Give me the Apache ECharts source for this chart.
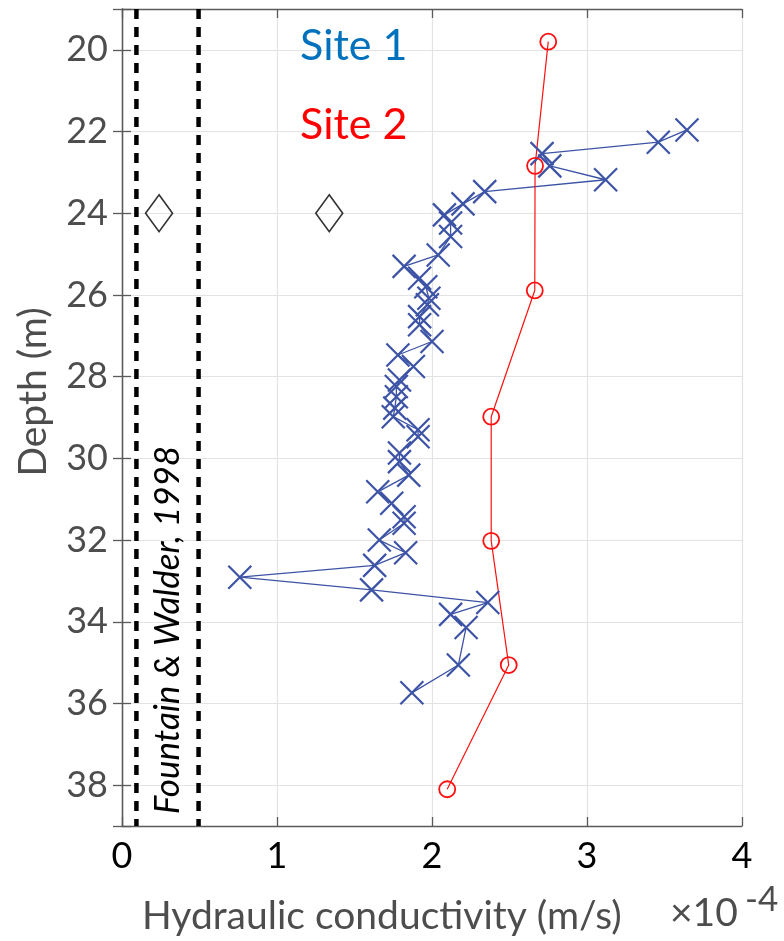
<!DOCTYPE html>
<html>
<head>
<meta charset="utf-8">
<script src="https://cdn.jsdelivr.net/npm/echarts@6/dist/echarts.min.js"></script>
<style>
html,body{margin:0;padding:0;background:#fff;}
#chart{width:784px;height:941px;}
</style>
</head>
<body>
<div id="chart"></div>
<script>
// ---- Data (hydraulic conductivity in 1e-4 m/s, depth in m) ----
const site1K = [3.645, 3.46, 2.71, 2.76, 3.12, 2.34, 2.20, 2.08, 2.12, 2.12, 2.04, 1.82, 1.92, 1.96, 1.98, 1.97, 1.92, 1.92, 2.00, 1.78, 1.88, 1.79, 1.77, 1.77, 1.76, 1.75, 1.91, 1.91, 1.79, 1.79, 1.85, 1.65, 1.74, 1.82, 1.82, 1.66, 1.83, 1.63, 0.76, 1.61, 2.36, 2.12, 2.22, 2.17, 1.87];
const site1Depth = [21.96, 22.26, 22.54, 22.84, 23.18, 23.47, 23.77, 24.04, 24.24, 24.57, 25.02, 25.30, 25.59, 25.80, 26.08, 26.24, 26.53, 26.73, 27.14, 27.47, 27.75, 28.08, 28.24, 28.49, 28.77, 28.98, 29.30, 29.47, 29.87, 30.08, 30.41, 30.82, 31.10, 31.43, 31.59, 32.00, 32.31, 32.62, 32.91, 33.22, 33.53, 33.82, 34.14, 35.06, 35.74];
const site2K = [2.75, 2.665, 2.663, 2.382, 2.382, 2.495, 2.098];
const site2Depth = [19.80, 22.84, 25.89, 28.98, 32.02, 35.06, 38.10];
const refLineK = [0.093, 0.494];       // Fountain & Walder, 1998 bounds
const diamondK = [0.239, 1.337];
const diamondDepth = [24, 24];
const xTicks = [0, 1, 2, 3, 4];
const depthRange = [19, 39];

const FONT = 'Lato';
const blue = '#3D53A6';
const red = '#FF1010';

const zip = (a, b) => a.map((v, i) => [v, b[i]]);

const chart = echarts.init(document.getElementById('chart'), null, {renderer: 'canvas'});

const frameColor = '#5a5a5a';
const gridColor = '#e3e3e3';

const txt = (x, y, text, fill, font, align, rot) => ({
  type: 'text', x: x, y: y, rotation: rot || 0, silent: true, z: 200, zlevel: 0,
  style: {text: text, fill: fill, font: font, align: align, verticalAlign: 'middle',
    textAlign: align, textVerticalAlign: 'middle'}
});

const option = {
  animation: false,
  backgroundColor: '#fff',
  grid: {left: 122, top: 9, right: 42, bottom: 115, containLabel: false},
  xAxis: [
    {
      type: 'value', position: 'bottom',
      min: xTicks[0], max: xTicks[xTicks.length - 1], interval: 1,
      axisLine: {show: true, lineStyle: {color: frameColor, width: 1.3}},
      axisTick: {show: true, inside: true, length: 9, lineStyle: {color: frameColor, width: 1.3}},
      axisLabel: {color: '#000', fontFamily: FONT, fontSize: 36, margin: 12},
      splitLine: {show: true, lineStyle: {color: gridColor, width: 1.2}}
    },
    {
      type: 'value', position: 'top',
      min: xTicks[0], max: xTicks[xTicks.length - 1], interval: 1,
      axisLine: {show: true, lineStyle: {color: frameColor, width: 1.3}},
      axisTick: {show: true, inside: true, length: 9, lineStyle: {color: frameColor, width: 1.3}},
      axisLabel: {show: false},
      splitLine: {show: false}
    }
  ],
  yAxis: [
    {
      type: 'value', position: 'left', inverse: true,
      min: depthRange[0], max: depthRange[1], splitNumber: 10,
      axisLine: {show: true, lineStyle: {color: frameColor, width: 1.3}},
      axisTick: {show: true, inside: true, length: 9, lineStyle: {color: frameColor, width: 1.3}},
      axisLabel: {color: '#4d4d4d', fontFamily: FONT, fontSize: 36, margin: 14,
        formatter: v => (Math.round(v) % 2 === 0 ? String(v) : '')},
      splitLine: {show: true, lineStyle: {color: gridColor, width: 1.2}}
    },
    {
      type: 'value', position: 'right', inverse: true,
      min: depthRange[0], max: depthRange[1], splitNumber: 10,
      axisLine: {show: true, lineStyle: {color: frameColor, width: 1.3}},
      axisTick: {show: true, inside: true, length: 9, lineStyle: {color: frameColor, width: 1.3}},
      axisLabel: {show: false},
      splitLine: {show: false}
    }
  ],
  series: [
    {
      name: 'ref low', type: 'line', xAxisIndex: 0, yAxisIndex: 0,
      data: [[refLineK[0], depthRange[0]], [refLineK[0], depthRange[1]]],
      symbol: 'none', silent: true,
      lineStyle: {color: '#000', width: 4.5, type: [10, 8]}
    },
    {
      name: 'ref high', type: 'line', xAxisIndex: 0, yAxisIndex: 0,
      data: [[refLineK[1], depthRange[0]], [refLineK[1], depthRange[1]]],
      symbol: 'none', silent: true,
      lineStyle: {color: '#000', width: 4.5, type: [10, 8]}
    },
    {
      name: 'diamonds', type: 'scatter', xAxisIndex: 0, yAxisIndex: 0,
      data: zip(diamondK, diamondDepth),
      symbol: 'diamond', symbolSize: [27, 37],
      itemStyle: {color: 'rgba(0,0,0,0)', borderColor: '#000', borderWidth: 1.6}
    },
    {
      name: 'Site 1', type: 'line', xAxisIndex: 0, yAxisIndex: 0,
      data: zip(site1K, site1Depth),
      symbol: 'path://M0,0L10,10M10,0L0,10', symbolSize: 23,
      showAllSymbol: true,
      itemStyle: {color: 'rgba(0,0,0,0)', borderColor: blue, borderWidth: 2.2},
      lineStyle: {color: blue, width: 1.3}
    },
    {
      name: 'Site 2', type: 'line', xAxisIndex: 0, yAxisIndex: 0,
      data: zip(site2K, site2Depth),
      symbol: 'circle', symbolSize: 16,
      itemStyle: {color: 'rgba(0,0,0,0)', borderColor: red, borderWidth: 1.8},
      lineStyle: {color: red, width: 1.2}
    }
  ],
  graphic: [
    txt(300, 46, 'Site 1', '#0072BD', '43px ' + FONT, 'left'),
    txt(300, 125, 'Site 2', '#FF0000', '43px ' + FONT, 'left'),
    txt(168, 630, 'Fountain & Walder, 1998', '#000', 'italic 35px ' + FONT, 'center', Math.PI / 2),
    txt(33, 392, 'Depth (m)', '#4d4d4d', '39px ' + FONT, 'center', Math.PI / 2),
    txt(142, 916, 'Hydraulic conductivity (m/s)', '#4d4d4d', '39px ' + FONT, 'left'),
    txt(670, 913, '\u00d710', '#4d4d4d', '39px ' + FONT, 'left'),
    txt(745, 900, '-4', '#4d4d4d', '35px ' + FONT, 'left')
  ]
};
chart.setOption(option);
</script>
</body>
</html>
